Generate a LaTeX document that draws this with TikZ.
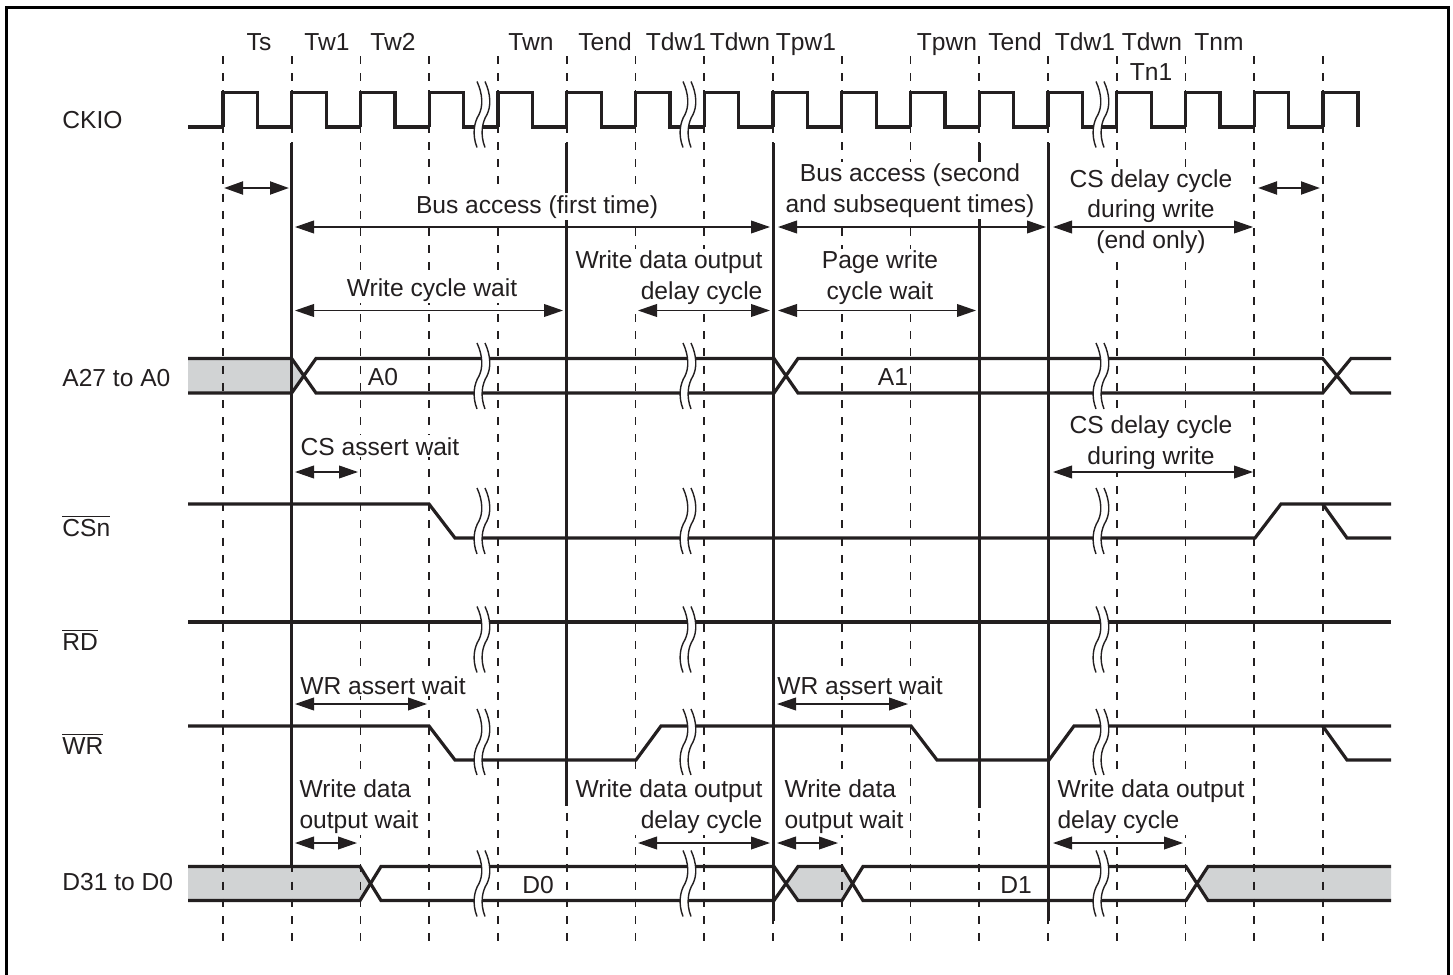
\documentclass[tikz,border=0pt]{standalone}
\usepackage{fontspec}
\setmainfont{Liberation Sans}
\usepackage{xcolor}
\definecolor{cInk}{HTML}{231F20}
\definecolor{cBand}{HTML}{D1D3D4}
\usepackage{tikz}
\usetikzlibrary{arrows.meta}
\tikzset{
  frame-line/.style={line width=1.6pt,draw=black},
  grid-line/.style={line width=0.85pt,draw=cInk,dash pattern=on 4pt off 4.6pt},
  edge-line/.style={line width=1.5pt,draw=cInk},
  signal/.style={line width=1.6pt,draw=cInk,line join=miter},
  band/.style={fill=cBand,draw=none},
  arrow-thin/.style={{Triangle[length=9.5pt,width=6.4pt]}-{Triangle[length=9.5pt,width=6.4pt]},line width=0.65pt,draw=cInk,fill=cInk},
  arrow-thick/.style={{Triangle[length=9.5pt,width=6.4pt]}-{Triangle[length=9.5pt,width=6.4pt]},line width=1.3pt,draw=cInk,fill=cInk},
  txt/.style={font=\fontsize{12.3}{15.2}\selectfont,text=cInk,anchor=base,inner sep=0pt},
  note/.style={txt,fill=white,align=center,inner xsep=1pt,inner ysep=1pt},
  breakmark/.pic={
    \fill[white] (-4,-33) .. controls (2,-20) and (2,-8) .. (-2,0) .. controls (-7,8) and (-9,20) .. (-4,33)
      -- (4,33) .. controls (-1,20) and (1,8) .. (6,0) .. controls (10,-8) and (10,-20) .. (4,-33) -- cycle;
    \draw[line width=0.7pt,draw=cInk] (-4,-33) .. controls (2,-20) and (2,-8) .. (-2,0) .. controls (-7,8) and (-9,20) .. (-4,33);
    \draw[line width=0.7pt,draw=cInk] (4,-33) .. controls (10,-20) and (10,-8) .. (6,0) .. controls (1,8) and (-1,20) .. (4,33);
  },
}
% arrow between two named ends: style, name, x1, x2, y
\newcommand{\timearrow}[5]{%
  \coordinate (#2-a) at (#3,#5);
  \coordinate (#2-b) at (#4,#5);
  \draw[#1] (#2-a) -- (#2-b);
}
\begin{document}
\begin{tikzpicture}[x=0.5pt,y=-0.5pt]
  \useasboundingbox (0,0) rectangle (1453,975);
  \foreach \i in {1,...,17} {\coordinate (g\i) at ({223+68.75*(\i-1)},0);}
  \draw[frame-line] (6.5,980) -- (6.5,7.5) -- (1448.5,7.5) -- (1448.5,980);

  % grey bands
  \fill[band] (188,358.5) -- (291.7,358.5) -- (304,376) -- (291.7,393) -- (188,393) -- cycle;
  \fill[band] (188,866.5) -- (360,866.5) -- (370,883.5) -- (360,900.5) -- (188,900.5) -- cycle;
  \fill[band] (784,883.5) -- (798,866.5) -- (842,866.5) -- (852,883.5) -- (842,900.5) -- (798,900.5) -- cycle;
  \fill[band] (1197,883.5) -- (1208,866.5) -- (1391,866.5) -- (1391,900.5) -- (1208,900.5) -- cycle;

  \foreach \i in {1,...,17} {\draw[grid-line] (g\i |- 0,56) -- (g\i |- 0,950);}
  \draw[edge-line] (g2 |- 0,143) -- (g2 |- 0,866);
  \draw[edge-line] (g6 |- 0,143) -- (g6 |- 0,806);
  \draw[edge-line] (g9 |- 0,143) -- (g9 |- 0,921);
  \draw[edge-line] (g12 |- 0,143) -- (g12 |- 0,808);
  \draw[edge-line] (g13 |- 0,143) -- (g13 |- 0,921);

  % CKIO
  \draw[signal] (188,127) -- (g1 |- 0,127);
  \foreach \i in {1,...,16} {\draw[signal] (g\i |- 0,127) -- ++(0,-34.5) -- ++(34.4,0) -- ++(0,34.5) -- ++(34.35,0);}
  \draw[signal] (g17 |- 0,127) -- ++(0,-34.5) -- ++(35,0) -- ++(0,34.5);

  % A27 to A0
  \draw[signal] (188,358.5) -- (291.7,358.5) -- (316,393) -- (774,393) -- (798,358.5) -- (1322.7,358.5) -- (1351,393) -- (1391,393);
  \draw[signal] (188,393) -- (291.7,393) -- (316,358.5) -- (774,358.5) -- (798,393) -- (1322.7,393) -- (1351,358.5) -- (1391,358.5);
  % CSn, RD, WR
  \draw[signal] (188,504) -- (429,504) -- (455,538) -- (1255,538) -- (1281,504) -- (1322.7,504) -- (1391,504);
  \draw[signal] (1322.7,504) -- (1347,538) -- (1391,538);
  \draw[signal] (188,622) -- (1391,622);
  \draw[signal] (188,726) -- (429,726) -- (455,760) -- (636,760) -- (661,726) -- (911,726) -- (937,760) -- (1049,760) -- (1074,726) -- (1391,726);
  \draw[signal] (1322.7,726) -- (1347,760) -- (1391,760);
  % D31 to D0
  \draw[signal] (188,866.5) -- (360,866.5) -- (381,900.5) -- (774,900.5) -- (798,866.5) -- (842,866.5) -- (863,900.5) -- (1186,900.5) -- (1208,866.5) -- (1391,866.5);
  \draw[signal] (188,900.5) -- (360,900.5) -- (381,866.5) -- (774,866.5) -- (798,900.5) -- (842,900.5) -- (863,866.5) -- (1186,866.5) -- (1208,900.5) -- (1391,900.5);

  \foreach \cx in {481,687,1100} {
    \foreach \cy in {114.5,376,521,639.5,742,883.5} {\pic at (\cx,\cy) {breakmark};}
  }

  % cycle names
  \node[txt] (ts) at (259,50) {Ts};
  \node[txt] (tw1) at (327,50) {Tw1};
  \node[txt] (tw2) at (393,50) {Tw2};
  \node[txt] (twn) at (531,50) {Twn};
  \node[txt] (tend1) at (605,50) {Tend};
  \node[txt] (tdw1a) at (676,50) {Tdw1};
  \node[txt] (tdwna) at (740,50) {Tdwn};
  \node[txt] (tpw1) at (806,50) {Tpw1};
  \node[txt] (tpwn) at (947,50) {Tpwn};
  \node[txt] (tend2) at (1015,50) {Tend};
  \node[txt] (tdw1b) at (1085,50) {Tdw1};
  \node[txt] (tdwnb) at (1152,50) {Tdwn};
  \node[txt] (tnm) at (1219,50) {Tnm};
  \node[txt] (tn1) at (1151,80) {Tn1};

  % signal names
  \node[txt,anchor=base west] (ckio) at (62,128) {CKIO};
  \node[txt,anchor=base west] (addr) at (62,386.5) {A27 to A0};
  \node[txt,anchor=base west] (csn) at (62,536) {$\overline{\hbox{CSn}}$};
  \node[txt,anchor=base west] (rd) at (62,650) {$\overline{\hbox{RD}}$};
  \node[txt,anchor=base west] (wr) at (62,754) {$\overline{\hbox{WR}}$};
  \node[txt,anchor=base west] (data) at (62,890) {D31 to D0};
  \node[txt] (a0) at (383,385.5) {A0};
  \node[txt] (a1) at (893,385.5) {A1};
  \node[txt] (d0) at (538,893) {D0};
  \node[txt] (d1) at (1016,893) {D1};

  % notes
  \node[note] (busfirst) at (537,213) {Bus access (first time)};
  \node[note] (busnext) at (910,212) {Bus access (second\\and subsequent times)};
  \node[note] (csdelayend) at (1151,248) {CS delay cycle\\during write\\(end only)};
  \node[note] (cyclewait) at (432,296) {Write cycle wait};
  \node[note,align=right] (delayone) at (669,299) {Write data output\\delay cycle};
  \node[note] (pagewait) at (880,299) {Page write\\cycle wait};
  \node[note] (csassert) at (380,455) {CS assert wait};
  \node[note] (csdelay) at (1151,464) {CS delay cycle\\during write};
  \node[note] (wrassertone) at (383,694) {WR assert wait};
  \node[note] (wrasserttwo) at (860,694) {WR assert wait};
  \node[note,align=left] (dataone) at (359,828) {Write data\\output wait};
  \node[note,align=right] (delaytwo) at (669,828) {Write data output\\delay cycle};
  \node[note,align=left] (datatwo) at (844,828) {Write data\\output wait};
  \node[note,align=left] (delaythree) at (1151,828) {Write data output\\delay cycle};

  % timing arrows
  \timearrow{arrow-thick}{setup}{224}{289}{188}
  \timearrow{arrow-thick}{hold}{1258}{1320}{188}
  \timearrow{arrow-thin}{busa}{295}{770}{227}
  \timearrow{arrow-thin}{busb}{778}{1046}{227}
  \timearrow{arrow-thin}{busc}{1053}{1253}{227}
  \timearrow{arrow-thin}{waita}{295}{563}{310.5}
  \timearrow{arrow-thin}{delaya}{638}{770}{310.5}
  \timearrow{arrow-thin}{waitb}{778}{976}{310.5}
  \timearrow{arrow-thin}{csa}{295}{358}{472}
  \timearrow{arrow-thin}{csb}{1053}{1253}{472}
  \timearrow{arrow-thin}{wra}{295}{427}{704}
  \timearrow{arrow-thin}{wrb}{777}{908}{704}
  \timearrow{arrow-thin}{dataa}{295}{357}{843}
  \timearrow{arrow-thin}{delayb}{638}{770}{843}
  \timearrow{arrow-thin}{datab}{777}{838}{843}
  \timearrow{arrow-thin}{delayc}{1053}{1183}{843}
\end{tikzpicture}
\end{document}
